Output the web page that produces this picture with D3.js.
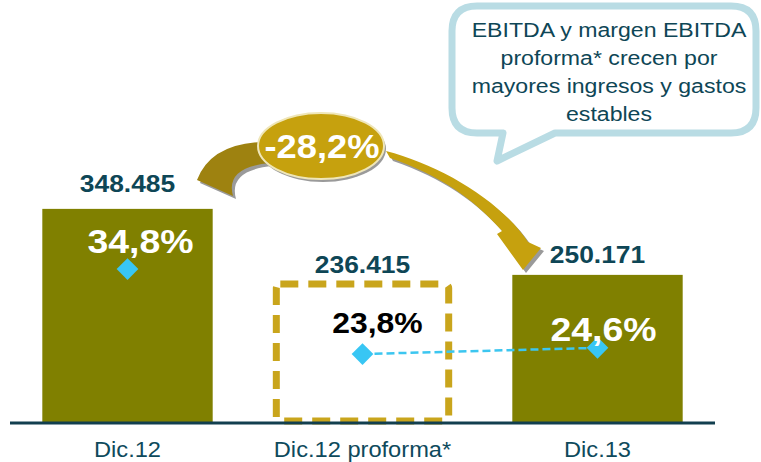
<!DOCTYPE html>
<html>
<head>
<meta charset="utf-8">
<script src="https://cdn.jsdelivr.net/npm/d3@7"></script>
<style>
  body { margin: 0; background: #fff; }
  svg { display: block; font-family: "Liberation Sans", Arial, sans-serif; }
</style>
</head>
<body>
<div id="chart"></div>
<script>
// Data
const categories = ['Dic.12', 'Dic.12 proforma*', 'Dic.13'];
const ebitda = [348.485, 236.415, 250.171];
const ebitdaLabels = ['348.485', '236.415', '250.171'];
const margin = [34.8, 23.8, 24.6];
const marginLabels = ['34,8%', '23,8%', '24,6%'];
const changeLabel = '-28,2%';
const noteLines = ['EBITDA y margen EBITDA', 'proforma* crecen por', 'mayores ingresos y gastos', 'estables'];

const W = 761, H = 462;
const base = 422;
const stretch = 1.1; // text in the picture is a bit wide

const svg = d3.select('#chart')
    .append('svg')
    .attr('width', W)
    .attr('height', H);

const x = d3.scaleBand()
    .domain(categories)
    .range([10, 715])
    .paddingInner(0.275)
    .paddingOuter(0.1375);

// bars don't start at zero in the original
const y = d3.scaleLinear()
    .domain([31, 400])
    .range([base, base - 0.6713 * 369]);

const y2 = d3.scaleLinear()
    .domain([20, 40])
    .range([383.4, 383.4 - 20 * 7.727]);

function label(g, tx, ty, txt, size, color, weight) {
    return g.append('text')
        .attr('transform', `translate(${tx},${ty}) scale(${stretch},1)`)
        .attr('text-anchor', 'middle')
        .attr('font-size', size)
        .attr('font-weight', weight || 'normal')
        .attr('fill', color)
        .text(txt);
}

// solid bars (Dic.12 and Dic.13)
svg.selectAll('rect.bar')
    .data(categories.filter((c, i) => i !== 1))
    .enter()
    .append('rect')
    .attr('class', 'bar')
    .attr('x', d => x(d))
    .attr('y', d => y(ebitda[categories.indexOf(d)]))
    .attr('width', x.bandwidth())
    .attr('height', d => base - y(ebitda[categories.indexOf(d)]))
    .attr('fill', '#808000');

// proforma: dashed outline
svg.append('rect')
    .attr('x', x(categories[1]) - 1)
    .attr('y', y(ebitda[1]))
    .attr('width', x.bandwidth() + 2)
    .attr('height', base - 1 - y(ebitda[1]))
    .attr('rx', 4)
    .attr('fill', 'none')
    .attr('stroke', '#c9a51c')
    .attr('stroke-width', 7)
    .attr('stroke-dasharray', '18,10');

// axis line
svg.append('line')
    .attr('x1', 10).attr('x2', 715)
    .attr('y1', base + 1).attr('y2', base + 1)
    .attr('stroke', '#123f4f')
    .attr('stroke-width', 3);

// category labels
categories.forEach(c => {
    label(svg, x(c) + x.bandwidth() / 2, 457, c, 21.5, '#0e4a5c');
});

// EBITDA value labels
const valDy = [-17, -11, -12];
ebitda.forEach((v, i) => {
    label(svg, x(categories[i]) + x.bandwidth() / 2, y(v) + valDy[i], ebitdaLabels[i], 24, '#0e4656', 'bold');
});

// margin line (only proforma -> Dic.13)
const cx = i => x(categories[i]) + x.bandwidth() / 2;
svg.append('path')
    .datum([1, 2])
    .attr('d', d3.line().x(i => cx(i)).y(i => y2(margin[i])))
    .attr('fill', 'none')
    .attr('stroke', '#3cc6f0')
    .attr('stroke-width', 2.5)
    .attr('stroke-dasharray', '8,4');

// diamonds
svg.selectAll('path.dot')
    .data(margin)
    .enter()
    .append('path')
    .attr('class', 'dot')
    .attr('d', d3.symbol(d3.symbolDiamond2, 300))
    .attr('transform', (d, i) => `translate(${cx(i)},${y2(d)})`)
    .attr('fill', '#38c6f4');

// margin labels
const pctDx = [13, 15, 6], pctDy = [-16, -21, -7];
const pctColor = ['#fff', '#000', '#fff'], pctSize = [34, 29, 34];
margin.forEach((m, i) => {
    label(svg, cx(i) + pctDx[i], y2(m) + pctDy[i], marginLabels[i], pctSize[i], pctColor[i], 'bold');
});

// curved arrow with change bubble
const arrow = svg.append('g');
const leftPart = 'M197,180 Q211,144 262,142 L270,163 Q225,167 233,196 Z';
const rightPart = 'M386,151 C440,165 500,200 528,242 L541,248 L523,270 L497,234 L502,231 C475,200 440,175 390,158 Z';
[leftPart, rightPart].forEach(p => {
    arrow.append('path').attr('d', p).attr('fill', '#9a9a9a')
        .attr('transform', 'translate(3,3)');
});
arrow.append('path').attr('d', leftPart).attr('fill', '#9e8210');
arrow.append('path').attr('d', rightPart).attr('fill', '#c6a10e');
arrow.append('ellipse')
    .attr('cx', 323).attr('cy', 149).attr('rx', 63).attr('ry', 33)
    .attr('fill', '#9a9a9a');
arrow.append('ellipse')
    .attr('cx', 321).attr('cy', 146).attr('rx', 63).attr('ry', 33)
    .attr('fill', '#c6a10e')
    .attr('stroke', '#efe6b8')
    .attr('stroke-width', 2);
label(arrow, 322, 158, changeLabel, 33, '#fff', 'bold');

// speech bubble
const bubble = svg.append('g');
bubble.append('path')
    .attr('d', 'M477,6 H731 Q756,6 756,31 V108 Q756,133 731,133 H555 L497,161 L503,133 H477 Q452,133 452,108 V31 Q452,6 477,6 Z')
    .attr('fill', '#fff')
    .attr('stroke', '#b9dce4')
    .attr('stroke-width', 7)
    .attr('stroke-linejoin', 'round');
noteLines.forEach((t, i) => {
    label(bubble, 609, 37 + i * 28, t, 21, '#0e4656');
});
</script>
</body>
</html>
